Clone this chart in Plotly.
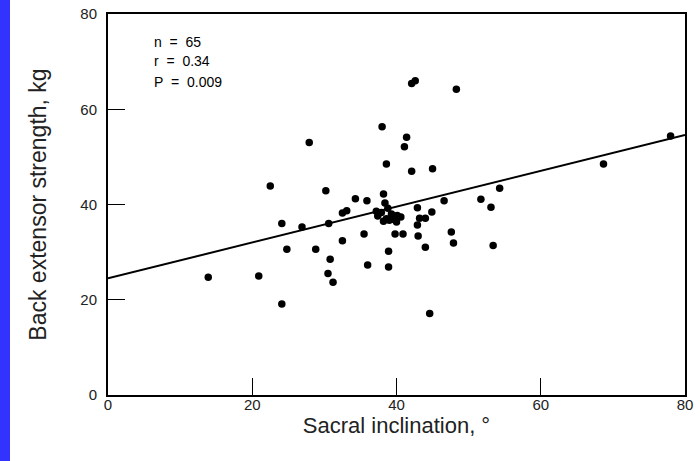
import plotly.graph_objects as go

# Scatter data: sacral inclination (deg) vs back extensor strength (kg)
sacral = [13.9, 20.9, 22.5, 24.1, 24.1, 24.8, 26.9, 27.9, 28.8, 30.2,
          30.6, 30.8, 30.5, 31.2, 32.5, 33.1, 32.5, 34.3, 35.9, 35.5,
          36.0, 38.0, 38.6, 38.2, 38.4, 38.8, 37.4, 39.0, 40.1, 40.0,
          39.8, 40.9, 38.9, 38.9, 41.1, 41.4, 42.1, 42.6, 42.1, 45.0,
          48.3, 42.9, 43.2, 44.0, 42.9, 44.9, 46.6, 43.0, 44.0, 44.6,
          47.6, 47.9, 51.7, 53.1, 54.3, 53.4, 68.7, 78.0,
          37.9, 38.6, 39.5, 37.2, 39.3, 40.6, 38.2]
strength = [24.7, 25.0, 43.9, 36.0, 19.1, 30.6, 35.3, 53.0, 30.6, 42.9,
            36.0, 28.5, 25.5, 23.7, 38.2, 38.7, 32.4, 41.2, 40.8, 33.8,
            27.3, 56.3, 48.5, 42.2, 40.3, 39.2, 37.6, 36.7, 37.7, 36.3,
            33.8, 33.8, 30.2, 26.9, 52.1, 54.1, 65.4, 66.0, 47.0, 47.5,
            64.2, 39.3, 37.1, 37.1, 35.7, 38.4, 40.8, 33.4, 31.0, 17.1,
            34.2, 31.9, 41.1, 39.4, 43.4, 31.4, 48.5, 54.4,
            38.3, 37.0, 36.9, 38.6, 38.0, 37.4, 36.5]

# Regression line endpoints
line_x = [0, 80]
line_y = [24.5, 54.6]

x_ticks = [0, 20, 40, 60, 80]
y_ticks = [0, 20, 40, 60, 80]

stats_lines = ["n&nbsp;&nbsp;=&nbsp;&nbsp;65", "r&nbsp;&nbsp;=&nbsp;&nbsp;0.34",
               "P&nbsp;&nbsp;=&nbsp;&nbsp;0.009"]

fig = go.Figure()
fig.add_trace(go.Scatter(x=line_x, y=line_y, mode="lines",
                         line=dict(color="black", width=2), hoverinfo="skip"))
fig.add_trace(go.Scatter(x=sacral, y=strength, mode="markers",
                         marker=dict(color="black", size=7.5)))

L, R, T, B = 108, 15, 14, 66
W, H = 700, 461
pw, ph = W - L - R, H - T - B

fig.add_shape(type="rect", xref="paper", yref="paper",
              x0=-L / pw, x1=(10 - L) / pw, y0=-B / ph, y1=1 + T / ph,
              fillcolor="#3333FF", line_width=0, layer="below")

for i, txt in enumerate(stats_lines):
    ypix = 41.5 + 20 * i
    fig.add_annotation(xref="paper", yref="paper", x=(152 - L) / pw, y=1 - (ypix - T) / ph,
                       xanchor="left", yanchor="middle", align="left", showarrow=False,
                       text=txt, font=dict(family="Liberation Sans", size=14, color="black"))

axis_common = dict(showgrid=False, zeroline=False, showline=True, mirror=True,
                   linecolor="black", linewidth=2, ticks="inside", ticklen=17,
                   tickwidth=1, tickcolor="black", automargin=False,
                   tickfont=dict(family="Liberation Sans", size=15, color="#222"))

fig.update_layout(
    width=W, height=H, margin=dict(l=L, r=R, t=T, b=B, autoexpand=False),
    paper_bgcolor="white", plot_bgcolor="white", showlegend=False,
    xaxis=dict(range=[0, 80], tickvals=x_ticks, ticktext=[str(v) for v in x_ticks],
               ticklabelstandoff=-5,
               title=dict(text="Sacral inclination, °", standoff=2,
                          font=dict(family="Liberation Sans", size=22, color="#222")),
               **axis_common),
    yaxis=dict(range=[0, 80], tickvals=y_ticks, ticktext=[str(v) for v in y_ticks],
               ticklabelstandoff=6,
               title=dict(text="Back extensor strength, kg", standoff=27,
                          font=dict(family="Liberation Sans", size=23, color="#222")),
               **axis_common),
)

fig.write_html("out.html", config={"displayModeBar": False},
               post_script="document.body.style.margin='0';document.body.style.padding='0';document.body.style.overflow='hidden';")
